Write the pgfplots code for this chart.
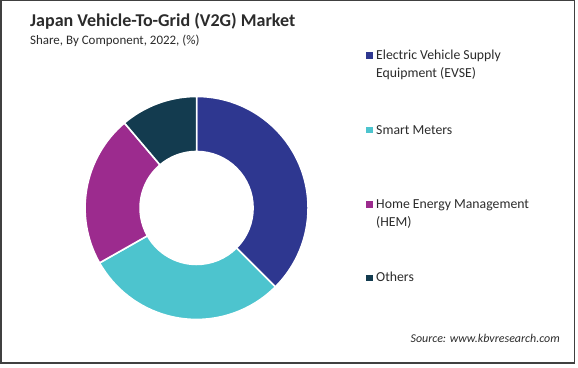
\documentclass[border=0pt]{standalone}
\usepackage{fontspec}
\setmainfont{Carlito}
\usepackage{pgfplots}
\pgfplotsset{compat=1.18}
\definecolor{evse}{HTML}{2E3790}
\definecolor{smart}{HTML}{4DC4CE}
\definecolor{hem}{HTML}{9C2B8E}
\definecolor{others}{HTML}{133B4F}
\definecolor{txt}{HTML}{2B2B2B}
\pgfdeclareplotmark{blank}{}
\pgfplotsset{
  sector/.style={scatter, only marks, mark=blank,
    point meta min=0, point meta max=1,
    visualization depends on={\thisrow{share}\as\share},
    visualization depends on={\thisrow{cum}\as\cum},
    scatter/@pre marker code/.code={%
      \pgfmathsetmacro\sa{90-3.6*\cum}%
      \pgfmathsetmacro\ea{90-3.6*(\cum+\share)}%
      \fill[fill=#1, draw=white, line width=1.6bp] (\sa:111.5bp) arc[start angle=\sa, end angle=\ea, radius=111.5bp] -- (\ea:56.5bp) arc[start angle=\ea, end angle=\sa, radius=56.5bp] -- cycle;},
    scatter/@post marker code/.code={}}
}
\begin{document}
\begin{tikzpicture}[x=1bp,y=1bp]
\useasboundingbox (0,0) rectangle (578,367);
\draw[line width=1.5bp, draw=black!75] (0.75,4) rectangle (574.5,366.25);
\begin{axis}[at={(175.5,142)}, anchor=center, scale only axis, width=224bp, height=224bp,
  hide axis, xmin=-1, xmax=1, ymin=-1, ymax=1, clip=false]
\addplot[sector=evse] table {
x y share cum
0 0 37.5 0
};
\addplot[sector=smart] table {
x y share cum
0 0 29.3 37.5
};
\addplot[sector=hem] table {
x y share cum
0 0 22.0 66.8
};
\addplot[sector=others] table {
x y share cum
0 0 11.2 88.8
};
\end{axis}
\node[anchor=base west, text=txt, inner sep=0] at (30,341) {\fontsize{18.1}{21}\selectfont\bfseries Japan Vehicle-To-Grid (V2G) Market};
\node[anchor=base west, text=txt, inner sep=0] at (30,323) {\fontsize{13}{15}\selectfont Share, By Component, 2022, (\%)};
% legend
\fill[evse] (366,308.5) rectangle +(6.5,6.5);
\node[anchor=base west, text=txt, inner sep=0] at (376,307.7) {\fontsize{13.8}{16}\selectfont Electric Vehicle Supply};
\node[anchor=base west, text=txt, inner sep=0] at (376,289.3) {\fontsize{13.8}{16}\selectfont Equipment (EVSE)};
\fill[smart] (366,234) rectangle +(6.5,6.5);
\node[anchor=base west, text=txt, inner sep=0] at (376,233) {\fontsize{13.8}{16}\selectfont Smart Meters};
\fill[hem] (366,159.5) rectangle +(6.5,6.5);
\node[anchor=base west, text=txt, inner sep=0] at (376,158.7) {\fontsize{13.8}{16}\selectfont Home Energy Management};
\node[anchor=base west, text=txt, inner sep=0] at (376,140.3) {\fontsize{13.8}{16}\selectfont (HEM)};
\fill[others] (366,86) rectangle +(6.5,6.5);
\node[anchor=base west, text=txt, inner sep=0] at (376,85.3) {\fontsize{13.8}{16}\selectfont Others};
\node[anchor=base east, text=txt, inner sep=0] at (560,24.3) {\fontsize{12}{14}\selectfont\itshape Source: www.kbvresearch.com};
\end{tikzpicture}
\end{document}
